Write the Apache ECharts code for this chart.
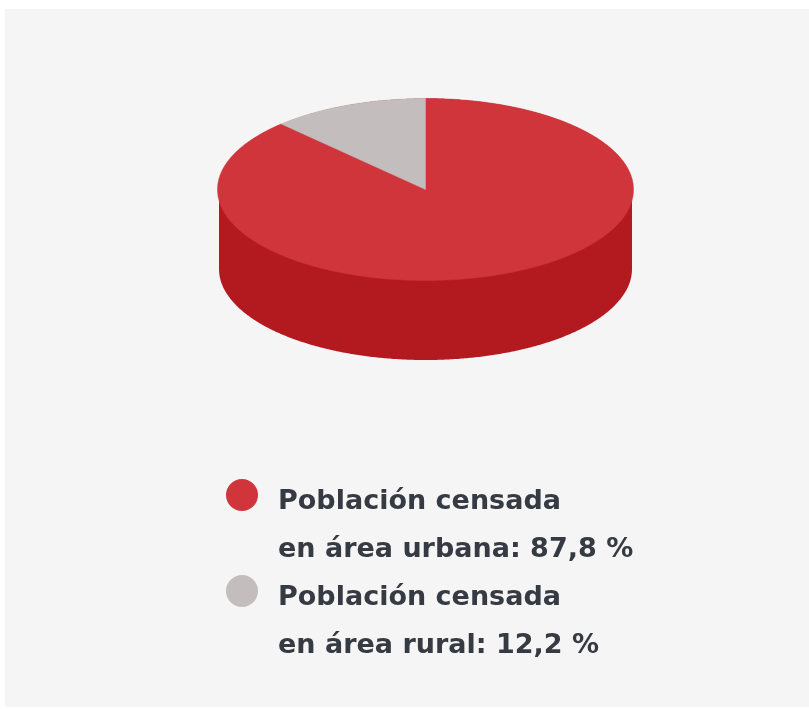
<!DOCTYPE html>
<html><head><meta charset="utf-8">
<style>html,body{margin:0;padding:0;background:#fff}#c{width:809px;height:709px}</style>
<script src="https://cdn.jsdelivr.net/npm/echarts@6/dist/echarts.min.js"></script>
</head><body><div id="c"></div>
<script>
const categories = ['Población censada\nen área urbana: 87,8 %', 'Población censada\nen área rural: 12,2 %'];
const shares = [87.8, 12.2];
const colors = ['#CF353B', '#C3BDBD'];
const wallColor = '#B31A20';

const CX = 425.5, CY = 189.5, RX = 208, RY = 91, DEPTH = 79.5, WALL_RX = 206.5;
const total = shares.reduce((a, b) => a + b, 0);

function rim(cx, cy, rx, ry, fromDeg, toDeg) {
  const pts = [], n = Math.max(2, Math.ceil(Math.abs(toDeg - fromDeg) * 2));
  for (let i = 0; i <= n; i++) {
    const a = (fromDeg + (toDeg - fromDeg) * i / n) * Math.PI / 180;
    pts.push([cx + rx * Math.sin(a), cy - ry * Math.cos(a)]);
  }
  return pts;
}

function makeRender(index) {
  return function (params, api) {
    const before = shares.slice(0, index).reduce((a, b) => a + b, 0);
    const from = before / total * 360;
    const to = (before + api.value(0)) / total * 360;
    const color = colors[index];
    const children = [];
    if (index === 0) {
      children.push({
        type: 'polygon',
        shape: { points: rim(CX, CY + DEPTH, WALL_RX, RY, 90, 270).concat(rim(CX, CY, WALL_RX, RY, 270, 450)) },
        style: { fill: wallColor }
      });
    }
    children.push({
      type: 'polygon',
      shape: { points: [[CX, CY]].concat(rim(CX, CY, RX, RY, from, to)) },
      style: { fill: color, stroke: color, lineWidth: 0.5 }
    });
    return { type: 'group', children };
  };
}

const chart = echarts.init(document.getElementById('c'), null, { renderer: 'canvas' });
chart.setOption({
  animation: false,
  graphic: [{
    type: 'rect', z: -10, silent: true,
    shape: { x: 5, y: 9, width: 804, height: 698 },
    style: { fill: '#F5F5F5' }
  }],
  legend: {
    show: true,
    orient: 'vertical',
    left: 226,
    top: 478,
    padding: 0,
    selectedMode: false,
    icon: 'path://M0 16A16 16 0 1 1 32 16A16 16 0 1 1 0 16ZM16 94L16 94Z',
    itemWidth: 32,
    itemHeight: 94,
    itemGap: 0,
    data: categories,
    textStyle: {
      fontFamily: '"DejaVu Sans", sans-serif',
      fontWeight: 'bold',
      fontSize: 27,
      lineHeight: 48,
      color: '#363A42',
      padding: [0, 0, 0, 15]
    }
  },
  series: shares.map((v, i) => ({
    type: 'custom',
    name: categories[i],
    coordinateSystem: 'none',
    silent: true,
    itemStyle: { color: colors[i] },
    data: [[v]],
    renderItem: makeRender(i)
  }))
});
</script></body></html>
